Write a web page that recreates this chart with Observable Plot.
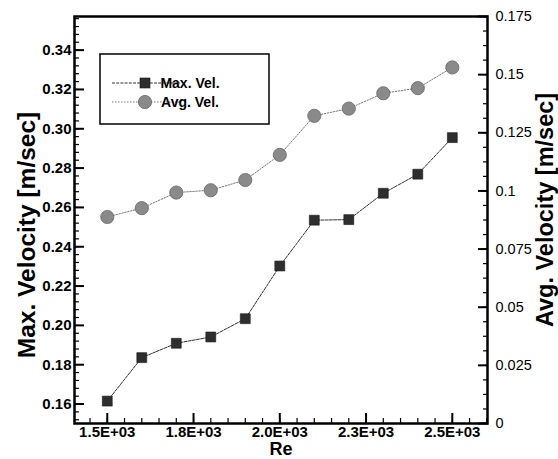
<!DOCTYPE html>
<html><head><meta charset="utf-8">
<script src="https://cdn.jsdelivr.net/npm/d3@7"></script>
<script src="https://cdn.jsdelivr.net/npm/@observablehq/plot@0.6"></script>
<style>
body{margin:0;background:#fff}
#chart{position:relative;width:558px;height:459px}
</style>
</head><body><div id="chart"></div>
<script>
const re = [1500, 1600, 1700, 1800, 1900, 2000, 2100, 2200, 2300, 2400, 2500];
const maxVel = [0.1615, 0.1836, 0.1909, 0.1941, 0.2034, 0.2302, 0.2535, 0.2538, 0.2672, 0.2769, 0.2955];
const avgVel = [0.0888, 0.0926, 0.0993, 0.1003, 0.1047, 0.1155, 0.1323, 0.1354, 0.1420, 0.1442, 0.1531];
const seriesNames = ["Max. Vel.", "Avg. Vel."];
const xTicks = [1500, 1750, 2000, 2250, 2500];
const xTickLabels = ["1.5E+03", "1.8E+03", "2.0E+03", "2.3E+03", "2.5E+03"];
const leftTicks = [0.16, 0.18, 0.20, 0.22, 0.24, 0.26, 0.28, 0.30, 0.32, 0.34];
const leftTickLabels = ["0.16", "0.18", "0.20", "0.22", "0.24", "0.26", "0.28", "0.30", "0.32", "0.34"];
const rightTicks = [0, 0.025, 0.05, 0.075, 0.1, 0.125, 0.15, 0.175];
const rightTickLabels = ["0", "0.025", "0.05", "0.075", "0.1", "0.125", "0.15", "0.175"];
const xTitle = "Re";
const leftTitle = "Max. Velocity [m/sec]";
const rightTitle = "Avg. Velocity [m/sec]";

const xDomain = [1405, 2602];
const leftDomain = [0.1501, 0.3571];
const rightDomain = [0, 0.175];
// map right-axis values onto the left scale
const toLeft = v => leftDomain[0] + (v - rightDomain[0]) / (rightDomain[1] - rightDomain[0]) * (leftDomain[1] - leftDomain[0]);

const maxData = re.map((r, i) => ({re: r, v: maxVel[i]}));
const avgData = re.map((r, i) => ({re: r, v: toLeft(avgVel[i])}));

const xLab = new Map(xTicks.map((t, i) => [t, xTickLabels[i]]));
const lLab = new Map(leftTicks.map((t, i) => [t, leftTickLabels[i]]));
const rMapped = rightTicks.map(toLeft);
const rLab = new Map(rMapped.map((t, i) => [t, rightTickLabels[i]]));

const xMinor = d3.range(1450, 2601, 50);
const lMinor = d3.range(0.152, 0.357, 0.004);
const rMinor = d3.range(0, 0.1751, 0.00625).map(toLeft);

const font = "Liberation Sans, Arial, Helvetica, sans-serif";
const blank = () => "";

const chart = Plot.plot({
  width: 558,
  height: 459,
  marginLeft: 74,
  marginRight: 71,
  marginTop: 16,
  marginBottom: 36,
  style: {fontFamily: font, background: "#fff", color: "#000"},
  x: {domain: xDomain, axis: null},
  y: {domain: leftDomain, axis: null},
  marks: [
    // minor ticks (inward)
    Plot.axisX(xMinor, {anchor: "bottom", tickSize: 5, dy: -5, tickFormat: blank, label: null, strokeWidth: 1.2}),
    Plot.axisY(lMinor, {anchor: "left", tickSize: 5, dx: 5, tickFormat: blank, label: null, strokeWidth: 1.2}),
    Plot.axisY(rMinor, {anchor: "right", tickSize: 5, dx: -5, tickFormat: blank, label: null, strokeWidth: 1.2}),
    // major ticks (inward)
    Plot.axisX(xTicks, {anchor: "bottom", tickSize: 10, dy: -10, tickFormat: blank, label: null, strokeWidth: 2}),
    Plot.axisY(leftTicks, {anchor: "left", tickSize: 10, dx: 10, tickFormat: blank, label: null, strokeWidth: 2}),
    Plot.axisY(rMapped, {anchor: "right", tickSize: 10, dx: -10, tickFormat: blank, label: null, strokeWidth: 2}),
    // tick labels
    Plot.axisX(xTicks, {anchor: "bottom", tickSize: 0, tickPadding: 3, tickFormat: d => xLab.get(d), label: null, fontSize: 15, fontWeight: "bold"}),
    Plot.axisY(leftTicks, {anchor: "left", tickSize: 0, tickPadding: 3, tickFormat: d => lLab.get(d), label: null, fontSize: 15, fontWeight: "bold"}),
    Plot.axisY(rMapped, {anchor: "right", tickSize: 0, tickPadding: 8, tickFormat: d => rLab.get(d), label: null, fontSize: 14.5}),
    // series
    Plot.line(avgData, {x: "re", y: "v", stroke: "#777", strokeWidth: 1, strokeDasharray: "1.5,1.5"}),
    Plot.line(maxData, {x: "re", y: "v", stroke: "#333", strokeWidth: 1, strokeDasharray: "3,1.2"}),
    Plot.dot(avgData, {x: "re", y: "v", r: 6.6, fill: "#8a8a8a", stroke: "#666", strokeWidth: 0.8}),
    Plot.dot(maxData, {x: "re", y: "v", symbol: "square", r: 5.6, fill: "#2e2e2e", stroke: "#1a1a1a", strokeWidth: 0.6}),
    Plot.frame({stroke: "#000", strokeWidth: 2.5}),
    // titles
    Plot.text([xTitle], {frameAnchor: "bottom", dy: 26, fontSize: 18, fontWeight: "bold", lineAnchor: "middle", textAnchor: "middle"}),
    Plot.text([leftTitle], {frameAnchor: "left", rotate: -90, dx: -47, dy: 15, fontSize: 24.5, fontWeight: "bold", lineAnchor: "middle", textAnchor: "middle"}),
    Plot.text([rightTitle], {frameAnchor: "right", rotate: -90, dx: 58, dy: -10, fontSize: 23.5, fontWeight: "bold", lineAnchor: "middle", textAnchor: "middle"})
  ]
});

document.getElementById("chart").appendChild(chart);

// legend box inside the plot area
const svg = d3.select(chart);
const lg = svg.append("g").attr("font-family", font);
lg.append("rect").attr("x", 100).attr("y", 54).attr("width", 169).attr("height", 70)
  .attr("fill", "#fff").attr("stroke", "#000").attr("stroke-width", 1.5);
const rows = [
  {name: seriesNames[0], y: 83, sym: "square", fill: "#2e2e2e", stroke: "#333", dash: "3,1.2"},
  {name: seriesNames[1], y: 102, sym: "circle", fill: "#8a8a8a", stroke: "#777", dash: "1.5,1.5"}
];
rows.forEach(r => {
  lg.append("line").attr("x1", 112).attr("x2", 180).attr("y1", r.y).attr("y2", r.y)
    .attr("stroke", r.stroke).attr("stroke-width", 1).attr("stroke-dasharray", r.dash);
  if (r.sym === "square") {
    lg.append("rect").attr("x", 140).attr("y", r.y - 5).attr("width", 10).attr("height", 10)
      .attr("fill", r.fill).attr("stroke", "#1a1a1a").attr("stroke-width", 0.6);
  } else {
    lg.append("circle").attr("cx", 145).attr("cy", r.y).attr("r", 6.6)
      .attr("fill", r.fill).attr("stroke", "#666").attr("stroke-width", 0.8);
  }
  lg.append("text").attr("x", 190).attr("y", r.y).attr("dy", "0.35em")
    .attr("font-size", 14).attr("font-weight", "bold").text(r.name);
});
</script>
</body></html>
